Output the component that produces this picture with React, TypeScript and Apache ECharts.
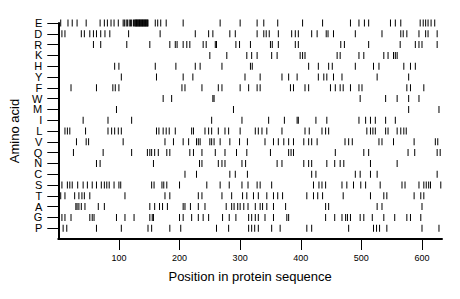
import React, { useEffect, useRef } from "react";
import * as echarts from "echarts";

const aminoAcids = ["E", "D", "R", "K", "H", "Y", "F", "W", "M", "I", "L", "V", "Q", "N", "C", "S", "T", "A", "G", "P"];
const yCategories = ["", ...aminoAcids.slice().reverse()];
const xTicks = [100, 200, 300, 400, 500, 600];
const seqLength = 633;

const posE = [4, 16, 23, 31, 46, 69, 76, 81, 87, 92, 99, 107, 109, 112, 114, 117, 119, 121, 124, 126, 127, 128, 129, 130, 131, 132, 133, 134, 135, 136, 137, 138, 139, 140, 141, 142, 143, 144, 145, 146, 147, 148, 160, 164, 169, 178, 206, 267, 300, 328, 339, 362, 403, 436, 482, 496, 505, 512, 548, 556, 565, 597, 602, 606, 610, 615, 621];
const posD = [6, 11, 38, 43, 52, 58, 63, 70, 77, 85, 116, 168, 226, 248, 255, 283, 292, 328, 339, 343, 348, 363, 385, 391, 396, 418, 427, 442, 445, 454, 490, 534, 565, 569, 575, 595, 606, 610, 625];
const posR = [58, 70, 113, 151, 184, 193, 196, 206, 212, 217, 239, 244, 259, 261, 293, 299, 317, 350, 353, 363, 391, 396, 466, 472, 512, 564, 589, 595, 600, 625];
const posK = [250, 278, 311, 319, 328, 352, 361, 399, 403, 407, 460, 465, 496, 504, 537, 544, 553, 556, 559];
const posH = [2, 93, 100, 160, 194, 226, 234, 270, 317, 320, 413, 429, 446, 452, 490, 520, 529, 570, 581, 589];
const posY = [104, 162, 206, 222, 308, 333, 369, 380, 394, 429, 438, 443, 454, 468, 526, 578];
const posF = [21, 63, 90, 94, 100, 204, 209, 237, 264, 270, 300, 314, 328, 333, 383, 388, 407, 413, 449, 457, 465, 470, 482, 496, 501, 575, 581, 603];
const posW = [173, 187, 255, 257, 498, 540, 559, 578, 595];
const posM = [96, 289, 578, 628];
const posI = [41, 82, 121, 253, 303, 347, 373, 394, 396, 425, 443, 496, 507, 515, 523, 540, 556];
const posL = [11, 15, 19, 45, 82, 88, 93, 99, 104, 162, 166, 173, 178, 183, 193, 220, 223, 242, 248, 253, 264, 275, 281, 300, 325, 330, 336, 344, 369, 407, 414, 435, 441, 446, 509, 515, 519, 523, 540, 544, 559, 565, 570, 574];
const posV = [30, 46, 50, 107, 176, 190, 206, 215, 228, 231, 234, 250, 253, 257, 267, 283, 299, 312, 341, 355, 363, 372, 380, 388, 405, 413, 418, 427, 473, 479, 485, 529, 534, 553, 587, 622, 626];
const posQ = [2, 25, 74, 121, 147, 151, 154, 159, 165, 179, 184, 217, 223, 237, 259, 275, 294, 311, 350, 380, 384, 388, 457, 504, 512, 577, 588, 625, 630];
const posN = [63, 69, 157, 233, 237, 264, 270, 275, 303, 309, 361, 369, 405, 413, 418, 443, 456, 465, 471, 515, 559];
const posC = [209, 228, 283, 292, 312, 418, 425, 490, 498, 515, 526, 625];
const posS = [2, 6, 15, 19, 23, 32, 41, 48, 56, 63, 71, 76, 80, 84, 92, 100, 103, 154, 158, 171, 174, 179, 200, 245, 267, 282, 303, 313, 328, 333, 352, 421, 430, 435, 441, 468, 476, 487, 499, 507, 531, 567, 572, 595, 603, 607, 611, 614, 631];
const posT = [4, 11, 27, 34, 39, 43, 52, 110, 176, 184, 231, 237, 270, 286, 304, 311, 322, 330, 344, 355, 362, 370, 410, 421, 428, 436, 470, 515, 537, 542, 587, 598, 603];
const posA = [29, 31, 34, 38, 44, 66, 76, 151, 159, 167, 172, 180, 206, 209, 218, 231, 242, 277, 286, 290, 296, 300, 306, 313, 325, 333, 337, 344, 355, 375, 441, 446, 526, 534, 600];
const posG = [2, 6, 11, 21, 52, 56, 59, 96, 110, 125, 151, 155, 157, 200, 206, 220, 231, 239, 248, 271, 282, 293, 314, 319, 325, 330, 341, 355, 377, 380, 441, 456, 468, 474, 477, 482, 498, 504, 518, 537, 555, 575, 581, 598];
const posP = [8, 14, 63, 104, 148, 154, 184, 202, 261, 281, 314, 319, 324, 330, 352, 366, 410, 418, 479, 520, 525, 530, 542, 600, 628];

const residueLists: [string, number[]][] = [
  ["E", posE], ["D", posD], ["R", posR], ["K", posK], ["H", posH],
  ["Y", posY], ["F", posF], ["W", posW], ["M", posM], ["I", posI],
  ["L", posL], ["V", posV], ["Q", posQ], ["N", posN], ["C", posC],
  ["S", posS], ["T", posT], ["A", posA], ["G", posG], ["P", posP],
];

const FONT = "'Liberation Sans', Arial, Helvetica, sans-serif";

export default function App() {
  const ref = useRef<HTMLDivElement>(null);
  useEffect(() => {
    if (!ref.current) return;
    const chart = echarts.init(ref.current, undefined, { renderer: "svg" });
    const data = residueLists.flatMap(([aa, arr]) => arr.map((p) => [p, aa]));
    chart.setOption({
      animation: false,
      backgroundColor: "#ffffff",
      grid: { left: 58, right: 18, top: 23, bottom: 60, containLabel: false },
      xAxis: {
        type: "value",
        min: 0,
        max: seqLength,
        splitLine: { show: false },
        axisLine: { show: true, lineStyle: { color: "#000", width: 2 } },
        axisTick: { show: true, length: 11, customValues: xTicks, lineStyle: { color: "#000", width: 1 } },
        axisLabel: { customValues: xTicks, fontSize: 9, color: "#000", margin: 14, fontFamily: FONT },
        name: "Position in protein sequence",
        nameLocation: "middle",
        nameGap: 31,
        nameTextStyle: { fontSize: 13, color: "#000", fontFamily: FONT },
      },
      yAxis: {
        type: "category",
        data: yCategories,
        boundaryGap: false,
        splitLine: { show: false },
        axisLine: { show: true, lineStyle: { color: "#000", width: 2 } },
        axisTick: { show: true, length: 11, interval: (i: number) => i > 0, lineStyle: { color: "#000", width: 1 } },
        axisLabel: { interval: 0, fontSize: 11, color: "#000", margin: 16, fontFamily: FONT },
        name: "Amino acid",
        nameLocation: "middle",
        nameGap: 33,
        nameTextStyle: { fontSize: 13, color: "#000", fontFamily: FONT },
      },
      series: [
        {
          type: "scatter",
          data,
          symbol: "rect",
          symbolSize: [1, 7],
          itemStyle: { color: "#000", opacity: 1 },
          clip: false,
          silent: true,
        },
      ],
    });
    return () => chart.dispose();
  }, []);
  return (
    <div
      ref={ref}
      style={{ position: "fixed", left: 0, top: 0, width: 460, height: 299, background: "#fff" }}
    />
  );
}
